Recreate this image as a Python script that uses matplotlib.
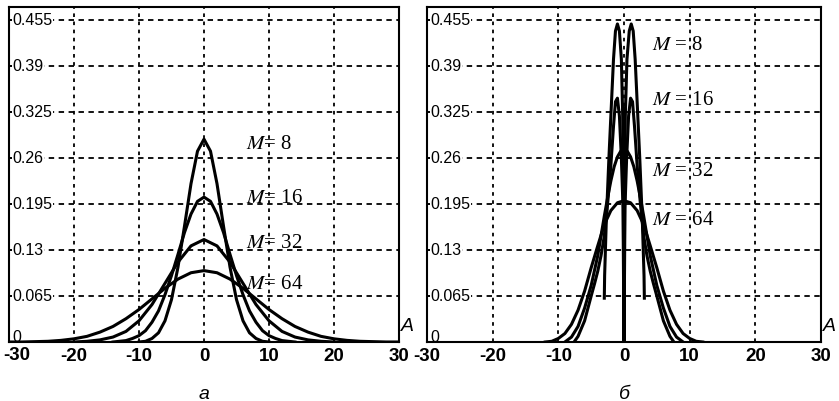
import matplotlib
matplotlib.use("Agg")
import matplotlib.pyplot as plt

plt.rcParams['mathtext.fontset'] = 'stix'

# y grid / tick values (same for both panels)
yticks = [0, 0.065, 0.13, 0.195, 0.26, 0.325, 0.39, 0.455]
ytick_labels = ["0", "0.065", "0.13", "0.195", "0.26", "0.325", "0.39", "0.455"]
xticks = [-30, -20, -10, 0, 10, 20, 30]
xtick_labels = ["-30", "-20", "-10", "0", "10", "20", "30"]

# panel a - curves
a_x8 = [-10, -9, -8, -7, -6, -5, -4, -3, -2, -1, 0, 1, 2, 3, 4, 5, 6, 7, 8, 9, 10]
a_y8 = [0.0, 0.001, 0.005, 0.013, 0.030, 0.060, 0.106, 0.164, 0.224, 0.270, 0.287,
        0.270, 0.224, 0.164, 0.106, 0.060, 0.030, 0.013, 0.005, 0.001, 0.0]

a_x16 = [-14, -13, -12, -11, -10, -9, -8, -7, -6, -5, -4, -3, -2, -1, 0,
         1, 2, 3, 4, 5, 6, 7, 8, 9, 10, 11, 12, 13, 14]
a_y16 = [0.0, 0.001, 0.002, 0.005, 0.009, 0.016, 0.028, 0.044, 0.067, 0.094, 0.124, 0.155, 0.181, 0.199, 0.205,
         0.199, 0.181, 0.155, 0.124, 0.094, 0.067, 0.044, 0.028, 0.016, 0.009, 0.005, 0.002, 0.001, 0.0]

a_x32 = [-20, -18, -16, -14, -12, -10, -8, -6, -4, -2, 0, 2, 4, 6, 8, 10, 12, 14, 16, 18, 20]
a_y32 = [0.0, 0.001, 0.003, 0.007, 0.015, 0.030, 0.053, 0.083, 0.113, 0.136, 0.145,
         0.136, 0.113, 0.083, 0.053, 0.030, 0.015, 0.007, 0.003, 0.001, 0.0]

a_x64 = [-30, -28, -26, -24, -22, -20, -18, -16, -14, -12, -10, -8, -6, -4, -2, 0,
         2, 4, 6, 8, 10, 12, 14, 16, 18, 20, 22, 24, 26, 28, 30]
a_y64 = [0.0, 0.0, 0.0005, 0.001, 0.0023, 0.0045, 0.008, 0.014, 0.022, 0.033, 0.046, 0.061, 0.076, 0.089, 0.098, 0.101,
         0.098, 0.089, 0.076, 0.061, 0.046, 0.033, 0.022, 0.014, 0.008, 0.0045, 0.0023, 0.001, 0.0005, 0.0, 0.0]

# panel b
b_x8 = [-3.0, -2.95, -2.7, -2.3, -2.0, -1.6, -1.3, -1.0, -0.7, -0.4, -0.2, -0.1, 0,
        0.1, 0.2, 0.45, 0.8, 1.1, 1.4, 1.7, 2.1, 2.4, 2.8, 3.05, 3.1]
b_y8 = [0.062, 0.094, 0.170, 0.260, 0.320, 0.400, 0.440, 0.450, 0.440, 0.400, 0.320, 0.200, 0.0,
        0.200, 0.320, 0.400, 0.440, 0.450, 0.440, 0.400, 0.320, 0.260, 0.170, 0.094, 0.062]

b_x16 = [-7.6, -7, -6, -5, -4.5, -4, -3.5, -3, -2.5, -2, -1.6, -1.3, -1.0, -0.7, -0.4, -0.15, 0,
         0.15, 0.4, 0.7, 1.0, 1.3, 1.6, 2, 2.5, 3, 3.5, 4, 4.5, 5, 6, 7, 7.6]
b_y16 = [0.0, 0.008, 0.030, 0.065, 0.082, 0.100, 0.122, 0.150, 0.195, 0.250, 0.305, 0.340, 0.345, 0.320, 0.260, 0.190, 0.0,
         0.190, 0.260, 0.320, 0.345, 0.340, 0.305, 0.250, 0.195, 0.150, 0.122, 0.100, 0.082, 0.065, 0.030, 0.008, 0.0]

b_x32 = [-9, -8, -7, -6, -5, -4, -3.5, -3, -2.5, -2, -1.5, -1, -0.5, 0,
         0.5, 1, 1.5, 2, 2.5, 3, 3.5, 4, 5, 6, 7, 8, 9]
b_y32 = [0.0, 0.007, 0.022, 0.048, 0.080, 0.122, 0.150, 0.178, 0.204, 0.228, 0.248, 0.262, 0.270, 0.272,
         0.270, 0.262, 0.248, 0.228, 0.204, 0.178, 0.150, 0.122, 0.080, 0.048, 0.022, 0.007, 0.0]

b_x64 = [-12, -11, -10, -9, -8, -7, -6, -5, -4, -3, -2, -1, 0,
         1, 2, 3, 4, 5, 6, 7, 8, 9, 10, 11, 12]
b_y64 = [0.0, 0.001, 0.005, 0.012, 0.025, 0.045, 0.072, 0.105, 0.136, 0.166, 0.186, 0.197, 0.200,
         0.197, 0.186, 0.166, 0.136, 0.105, 0.072, 0.045, 0.025, 0.012, 0.005, 0.001, 0.0]

a_labels = [("$M$= 8", 0.279), ("$M$= 16", 0.2025), ("$M$= 32", 0.140), ("$M$= 64", 0.0814)]
b_labels = [("$M$ = 8", 0.420), ("$M$ = 16", 0.342), ("$M$ = 32", 0.2415), ("$M$ = 64", 0.172)]

fig = plt.figure(figsize=(8.39, 4.01), dpi=100)
ax1 = fig.add_axes([9/839, 1 - 342/401, 390/839, 335/401])
ax2 = fig.add_axes([427/839, 1 - 342/401, 394/839, 335/401])


def setup(ax, letter, first_label=True):
    ax.set_xlim(-30, 30)
    ax.set_ylim(0, 0.474)
    ax.set_xticks(xticks)
    labels = list(xtick_labels)
    if not first_label:
        labels[0] = ""
    ax.set_xticklabels(labels, fontsize=13.5, fontweight='bold', family='Liberation Sans')
    ax.set_yticks(yticks)
    ax.set_yticklabels([])
    ax.tick_params(axis='y', direction='in', length=3, width=1.2)
    ax.tick_params(axis='x', direction='in', length=0, pad=4)
    for v in xticks[1:-1]:
        ax.axvline(v, color='black', lw=1.3, ls=(0, (2, 2.5)), zorder=1)
    for v in yticks[1:]:
        ax.axhline(v, color='black', lw=1.3, ls=(0, (3, 2.5)), zorder=1)
    for v, s in zip(yticks, ytick_labels):
        yy = v + 0.007 if v == 0 else v
        ax.text(-29.5, yy, s, ha='left', va='center', fontsize=11.5, family='Liberation Sans',
                zorder=2, bbox=dict(facecolor='white', edgecolor='none', pad=0.5))
    for sp in ax.spines.values():
        sp.set_linewidth(1.5)
    ax.text(1.005, 0.02, "A", transform=ax.transAxes, ha='left', va='bottom',
            fontsize=14, style='italic', family='Liberation Sans')
    ax.text(0.5, -0.13, letter, transform=ax.transAxes, ha='center', va='top',
            fontsize=14, style='italic', family='Liberation Sans')


setup(ax1, "а", first_label=False)
setup(ax2, "б")
# leftmost "-30" sits against the figure edge
fig.text(3/839, 1 - 347/401, "-30", ha='left', va='top', fontsize=13.5,
         fontweight='bold', family='Liberation Sans')

for xs, ys in [(a_x8, a_y8), (a_x16, a_y16), (a_x32, a_y32), (a_x64, a_y64)]:
    ax1.plot(xs, ys, color='black', lw=2.2, zorder=3)
for xs, ys in [(b_x8, b_y8), (b_x16, b_y16), (b_x32, b_y32), (b_x64, b_y64)]:
    ax2.plot(xs, ys, color='black', lw=2.2, zorder=3)

for s, y in a_labels:
    ax1.text(6.4, y, s, ha='left', va='center', fontsize=15, family='Liberation Serif', zorder=4)
for s, y in b_labels:
    ax2.text(4.3, y, s, ha='left', va='center', fontsize=15, family='Liberation Serif', zorder=4)

fig.savefig("out.png", dpi=100)
